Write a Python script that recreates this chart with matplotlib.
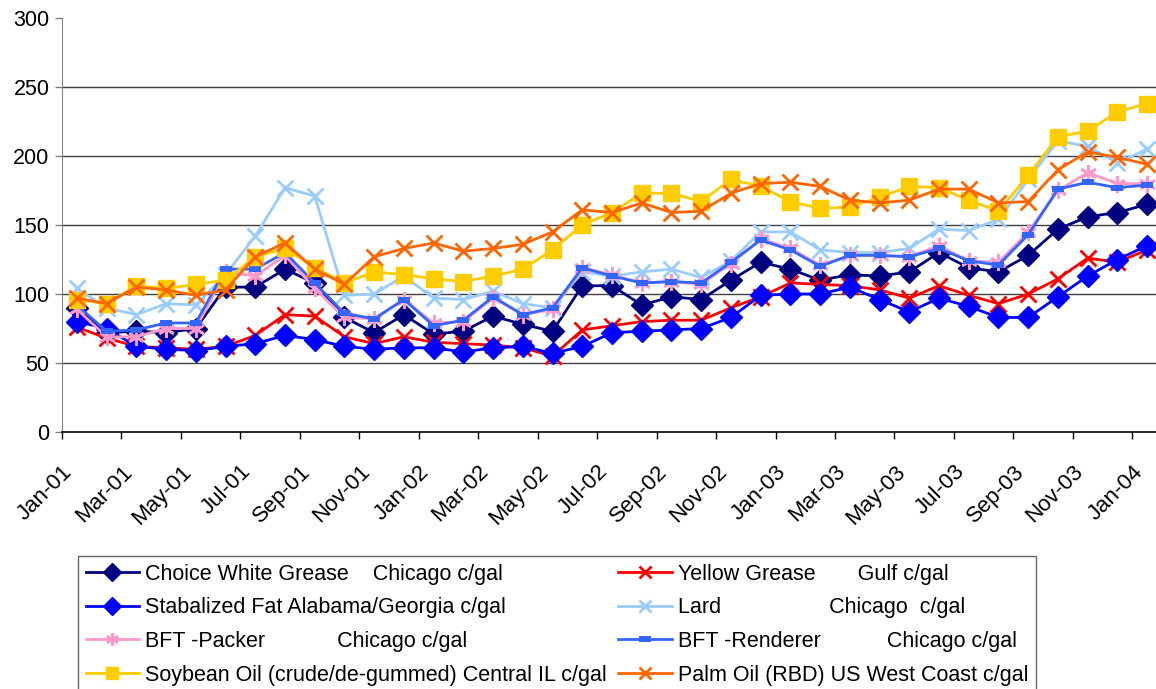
import matplotlib
matplotlib.use("Agg")
import matplotlib.pyplot as plt
import numpy as np

plt.rcParams['font.family'] = ['Liberation Sans', 'DejaVu Sans']

months = ["Jan-01", "Feb-01", "Mar-01", "Apr-01", "May-01", "Jun-01", "Jul-01", "Aug-01",
          "Sep-01", "Oct-01", "Nov-01", "Dec-01", "Jan-02", "Feb-02", "Mar-02", "Apr-02",
          "May-02", "Jun-02", "Jul-02", "Aug-02", "Sep-02", "Oct-02", "Nov-02", "Dec-02",
          "Jan-03", "Feb-03", "Mar-03", "Apr-03", "May-03", "Jun-03", "Jul-03", "Aug-03",
          "Sep-03", "Oct-03", "Nov-03", "Dec-03", "Jan-04"]

choice_white = [90, 72, 73, 72, 75, 105, 105, 118, 108, 83, 72, 85, 71, 73, 84, 78, 73, 106, 106,
                92, 98, 96, 110, 123, 118, 110, 114, 113, 116, 130, 119, 116, 128, 147, 156, 159, 165]
yellow_grease = [76, 68, 62, 61, 60, 62, 70, 85, 84, 69, 64, 69, 65, 64, 63, 61, 55, 74, 77,
                 80, 81, 81, 90, 98, 108, 107, 106, 103, 97, 106, 99, 93, 100, 111, 126, 123, 132]
stab_fat = [80, 75, 62, 60, 59, 62, 64, 70, 67, 62, 60, 61, 61, 58, 61, 62, 57, 62, 72,
            73, 74, 75, 83, 99, 100, 100, 105, 96, 87, 97, 91, 83, 83, 98, 113, 125, 135]
lard = [104, 90, 85, 93, 92, 114, 142, 177, 171, 99, 100, 113, 97, 96, 102, 93, 90, 116, 113,
        116, 118, 112, 124, 145, 145, 132, 130, 130, 133, 147, 146, 154, 183, 211, 207, 195, 205]
bft_packer = [89, 69, 69, 75, 75, 116, 113, 128, 104, 83, 82, 96, 79, 80, 97, 85, 89, 119, 114,
              108, 109, 107, 122, 140, 133, 121, 128, 128, 127, 135, 124, 123, 145, 175, 188, 180, 180]
bft_renderer = [92, 73, 74, 79, 79, 118, 118, 130, 108, 86, 82, 96, 77, 81, 98, 85, 90, 119, 113,
                108, 109, 108, 123, 139, 132, 120, 128, 128, 127, 133, 124, 121, 143, 176, 181, 177, 179]
soybean = [96, 93, 106, 104, 107, 110, 127, 133, 119, 108, 116, 114, 111, 109, 113, 118, 132, 150, 159,
           173, 173, 167, 183, 178, 167, 162, 163, 170, 178, 177, 168, 160, 186, 214, 218, 232, 238]
palm = [97, 93, 105, 103, 99, 103, 127, 137, 118, 107, 127, 133, 137, 131, 133, 136, 145, 161, 159,
        166, 159, 160, 173, 180, 181, 178, 168, 166, 168, 176, 176, 166, 167, 190, 203, 199, 194]

labels = ["Choice White Grease    Chicago c/gal",
          "Yellow Grease       Gulf c/gal",
          "Stabalized Fat Alabama/Georgia c/gal",
          "Lard                  Chicago  c/gal",
          "BFT -Packer            Chicago c/gal",
          "BFT -Renderer           Chicago c/gal",
          "Soybean Oil (crude/de-gummed) Central IL c/gal",
          "Palm Oil (RBD) US West Coast c/gal"]

rect = [(-1, -0.55), (1, -0.55), (1, 0.55), (-1, 0.55), (-1, -0.55)]

# color, marker, markersize, marker edge width
styles = [("#000080", "D", 11, 1),
          ("#FF0000", "x", 11, 2),
          ("#0000FF", "D", 11, 1),
          ("#99CCFF", "x", 11, 2),
          ("#FF99CC", (6, 2, 0), 12, 2),
          ("#3366FF", rect, 8, 0),
          ("#FFCC00", "s", 12, 1),
          ("#FF6600", "x", 11, 2)]

series = [choice_white, yellow_grease, stab_fat, lard, bft_packer, bft_renderer, soybean, palm]

fig = plt.figure(figsize=(11.56, 6.89), dpi=100)
ax = fig.add_axes([62/1156, 1 - 432/689, 1100/1156, 414/689])

x = np.arange(len(months))
handles = []
for vals, lab, (c, m, ms, mew) in zip(series, labels, styles):
    h, = ax.plot(x, vals, color=c, lw=2, marker=m, markersize=ms,
                 markerfacecolor=c, markeredgecolor=c, markeredgewidth=mew, label=lab)
    handles.append(h)

ax.set_xlim(-0.5, len(months) - 0.5)
ax.set_ylim(0, 300)
ax.set_yticks(range(0, 301, 50))
for v in range(50, 300, 50):
    ax.axhline(v, color="#404040", lw=1, zorder=0)

ax.set_xticks(np.arange(-0.5, len(months), 2))
ax.set_xticklabels([])
ax.set_xticks(x[::2], minor=True)
ax.set_xticklabels(months[::2], minor=True, rotation=45, ha="right", fontsize=16)
ax.tick_params(axis="x", which="major", length=5, width=1, color="black")
ax.tick_params(axis="x", which="minor", length=0, pad=21)
ax.tick_params(axis="y", length=5, width=1, color="#808080", labelsize=15.5, pad=4)

ax.spines["top"].set_visible(False)
ax.spines["right"].set_visible(False)
ax.spines["left"].set_color("#808080")
ax.spines["bottom"].set_color("black")
ax.spines["bottom"].set_linewidth(1.2)

order = [0, 2, 4, 6, 1, 3, 5, 7]
leg = fig.legend([handles[i] for i in order], [labels[i] for i in order],
                 loc="upper left", bbox_to_anchor=(78/1156, 1 - 556/689), ncol=2,
                 fontsize=15.5, frameon=True, fancybox=False, edgecolor="#404040",
                 handlelength=2.5, handletextpad=0.25, columnspacing=0.55,
                 labelspacing=0.59, borderpad=0.35, borderaxespad=0)
leg.get_frame().set_linewidth(1)
for h in leg.legend_handles:
    h.set_markersize(9)

fig.savefig("out.png", dpi=100)
